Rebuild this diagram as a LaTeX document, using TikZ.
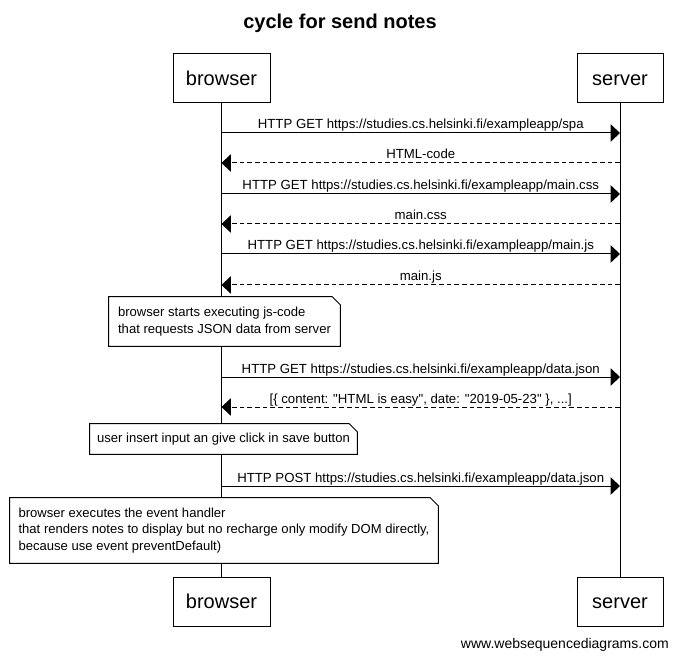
\documentclass[tikz,border=0pt]{standalone}
\usepackage{fontspec}
\setmainfont{Liberation Sans}[Ligatures={TeXOff,NoCommon}]
\usetikzlibrary{arrows.meta}
\newcommand\notefold[1]{%
  \draw[noteline] (#1.north west) -- ([xshift=-6pt]#1.north east) -- ([yshift=-6pt]#1.north east) -- (#1.south east) -- (#1.south west) -- cycle;}
\begin{document}
\begin{tikzpicture}[x=0.75pt,y=-0.75pt,
  actorbox/.style={draw, line width=0.75pt, inner sep=0pt, minimum height=36.75pt, text height=12.5pt, text depth=2pt, font=\fontsize{15}{18}\selectfont},
  lifeline/.style={line width=0.75pt},
  req/.style={line width=0.75pt, -{Triangle[length=7pt,width=13pt]}},
  resp/.style={req, dash pattern=on 3.5pt off 2.25pt},
  msglbl/.style={font=\fontsize{9.9}{12}\selectfont, anchor=base, inner sep=0pt, yshift=3pt},
  notetext/.style={fill=white, font=\fontsize{9.8}{12.4}\selectfont, align=left, inner sep=0pt},
  noteline/.style={line width=0.75pt}
]
\useasboundingbox (0,0) rectangle (678,659);
\fill[white] (0,0) rectangle (678,659);

\node[font=\bfseries\fontsize{15}{18}\selectfont] (title) at (340,23) {cycle for send notes};

% actors
\node[actorbox, minimum width=72.75pt] (bt) at (221.5,78.5) {browser};
\node[actorbox, minimum width=64.5pt] (st) at (620,78.5) {server};
\node[actorbox, minimum width=72.75pt] (bb) at (221.5,601.5) {browser};
\node[actorbox, minimum width=64.5pt] (sb) at (620,601.5) {server};

\draw[lifeline] (bt.south) -- (bb.north);
\draw[lifeline] (st.south) -- (sb.north);

% message anchor points on the lifelines
\foreach \n/\y in {1/133,2/163,3/194,4/224,5/254,6/285,7/377,8/407,9/486}{
  \coordinate (b\n) at (bt.south |- 0,\y);
  \coordinate (s\n) at (st.south |- 0,\y);
}

\draw[req]  (b1) -- node[midway,msglbl] {HTTP GET https://studies.cs.helsinki.fi/exampleapp/spa} (s1);
\draw[resp] (s2) -- node[midway,msglbl] {HTML-code} (b2);
\draw[req]  (b3) -- node[midway,msglbl] {HTTP GET https://studies.cs.helsinki.fi/exampleapp/main.css} (s3);
\draw[resp] (s4) -- node[midway,msglbl] {main.css} (b4);
\draw[req]  (b5) -- node[midway,msglbl] {HTTP GET https://studies.cs.helsinki.fi/exampleapp/main.js} (s5);
\draw[resp] (s6) -- node[midway,msglbl] {main.js} (b6);
\draw[req]  (b7) -- node[midway,msglbl] {HTTP GET https://studies.cs.helsinki.fi/exampleapp/data.json} (s7);
\draw[resp] (s8) -- node[midway,msglbl] {[\{ content: "HTML is easy", date: "2019-05-23" \}, ...]} (b8);
\draw[req]  (b9) -- node[midway,msglbl] {HTTP POST https://studies.cs.helsinki.fi/exampleapp/data.json} (s9);

% notes
\node[notetext, minimum width=173.25pt, minimum height=36.75pt] (n1) at (224.5,321.5)
  {browser starts executing js-code\\that requests JSON data from server};
\notefold{n1}
\node[notetext, minimum width=200.25pt, minimum height=22.5pt] (n2) at (223.5,439)
  {user insert input an give click in save button};
\notefold{n2}
\node[notetext, minimum width=321pt, minimum height=48.75pt] (n3) at (224,530.5)
  {browser executes the event handler\\that renders notes to display but no recharge only modify DOM directly,\\because use event preventDefault)};
\notefold{n3}

\node[font=\fontsize{10.5}{12}\selectfont, anchor=east, inner sep=0pt] (credit) at (669,645) {www.websequencediagrams.com};
\end{tikzpicture}
\end{document}
